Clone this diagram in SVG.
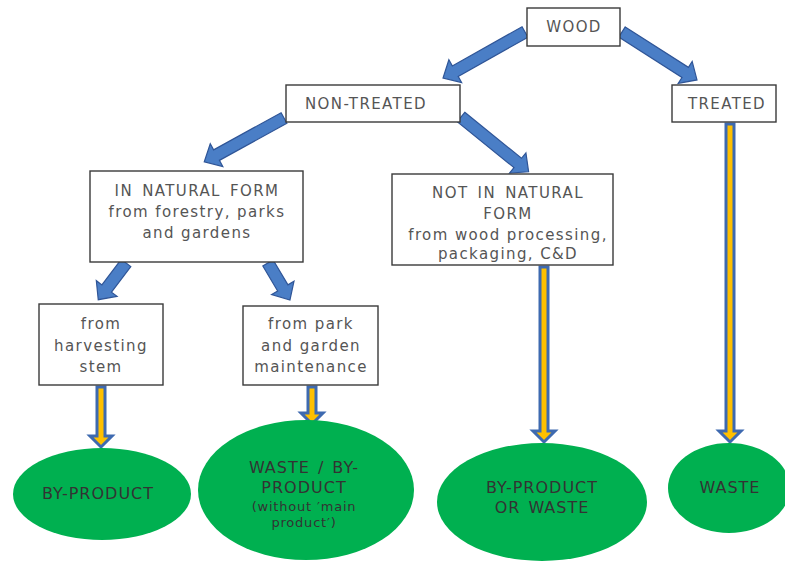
<svg xmlns="http://www.w3.org/2000/svg" width="785" height="562" viewBox="0 0 785 562">
<style>
.box{fill:#fff;stroke:#3a3a3a;stroke-width:1.4}
.bt{font-family:"DejaVu Sans",Verdana,sans-serif;font-size:15px;letter-spacing:1.4px;fill:#555;text-anchor:middle}
.ell{fill:#00B050}
.et{font-family:"DejaVu Sans",Verdana,sans-serif;font-size:16px;letter-spacing:1px;fill:#333;text-anchor:middle}
.es{font-family:"DejaVu Sans",Verdana,sans-serif;font-size:13px;letter-spacing:0.8px;fill:#333;text-anchor:middle}
.ba{fill:#4A7EC6;stroke:#2F5597;stroke-width:1.2}
.va{fill:#FFC000;stroke:#3E6AB0;stroke-width:3;stroke-linejoin:miter}
</style>
<rect width="785" height="562" fill="#fff"/>
<g id="connectors">
<path class="ba" transform="translate(525,32) rotate(150.7)" d="M0,-6 L80,-6 L80,-13 L94,0 L80,13 L80,6 L0,6 Z"/>
<path class="ba" transform="translate(622,32) rotate(32.6)" d="M0,-6 L75,-6 L75,-13 L89,0 L75,13 L75,6 L0,6 Z"/>
<path class="ba" transform="translate(284,118) rotate(151.2)" d="M0,-6 L77,-6 L77,-13 L91,0 L77,13 L77,6 L0,6 Z"/>
<path class="ba" transform="translate(461,117) rotate(39)" d="M0,-6 L73,-6 L73,-13 L87,0 L73,13 L73,6 L0,6 Z"/>
<path class="ba" transform="translate(126,263) rotate(127.1)" d="M0,-6 L32,-6 L32,-13 L46,0 L32,13 L32,6 L0,6 Z"/>
<path class="ba" transform="translate(268,263) rotate(59.3)" d="M0,-6 L29,-6 L29,-13 L43,0 L29,13 L29,6 L0,6 Z"/>
<path class="va" d="M97,387 L105,387 L105,436 L112,436 L101,447 L90,436 L97,436 Z"/>
<path class="va" d="M308,387 L316,387 L316,413 L323,413 L312,424 L301,413 L308,413 Z"/>
<path class="va" d="M540,267 L548,267 L548,431 L555,431 L544,442 L533,431 L540,431 Z"/>
<path class="va" d="M726,124 L734,124 L734,431 L741,431 L730,442 L719,431 L726,431 Z"/>
</g>
<g id="wood"><rect class="box" x="527" y="8" width="93" height="38"/><text class="bt" x="574" y="32">WOOD</text></g>
<g id="non-treated"><rect class="box" x="286" y="85" width="174" height="37"/><text class="bt" x="366" y="109">NON-TREATED</text></g>
<g id="treated"><rect class="box" x="672" y="85" width="104" height="37"/><text class="bt" x="727" y="109">TREATED</text></g>
<g id="natural"><rect class="box" x="90" y="171" width="213" height="91"/>
<text class="bt" x="197" y="196" word-spacing="3">IN NATURAL FORM</text>
<text class="bt" x="197" y="217">from forestry, parks</text>
<text class="bt" x="197" y="238">and gardens</text></g>
<g id="not-natural"><rect class="box" x="392" y="174" width="221" height="91"/>
<text class="bt" x="508" y="198" word-spacing="3">NOT IN NATURAL</text>
<text class="bt" x="508" y="219">FORM</text>
<text class="bt" x="508" y="240">from wood processing,</text>
<text class="bt" x="508" y="259">packaging, C&amp;D</text></g>
<g id="harvesting"><rect class="box" x="39" y="304" width="124" height="81"/>
<text class="bt" x="101" y="329">from</text>
<text class="bt" x="101" y="351">harvesting</text>
<text class="bt" x="101" y="372">stem</text></g>
<g id="park"><rect class="box" x="243" y="306" width="135" height="79"/>
<text class="bt" x="311" y="329">from park</text>
<text class="bt" x="311" y="351">and garden</text>
<text class="bt" x="311" y="372">maintenance</text></g>
<g id="byproduct"><ellipse class="ell" cx="102" cy="494" rx="89" ry="46"/><text class="et" x="98" y="499">BY-PRODUCT</text></g>
<g id="waste-byproduct"><ellipse class="ell" cx="306" cy="490" rx="108" ry="70"/>
<text class="et" x="304" y="473" word-spacing="2">WASTE / BY-</text>
<text class="et" x="304" y="493">PRODUCT</text>
<text class="es" x="304" y="511">(without ′main</text>
<text class="es" x="304" y="527">product′)</text></g>
<g id="byproduct-waste"><ellipse class="ell" cx="542" cy="502" rx="105" ry="59"/>
<text class="et" x="542" y="493">BY-PRODUCT</text>
<text class="et" x="542" y="513" word-spacing="2">OR WASTE</text></g>
<g id="waste"><ellipse class="ell" cx="729" cy="488" rx="61" ry="45"/><text class="et" x="730" y="493">WASTE</text></g>
</svg>
